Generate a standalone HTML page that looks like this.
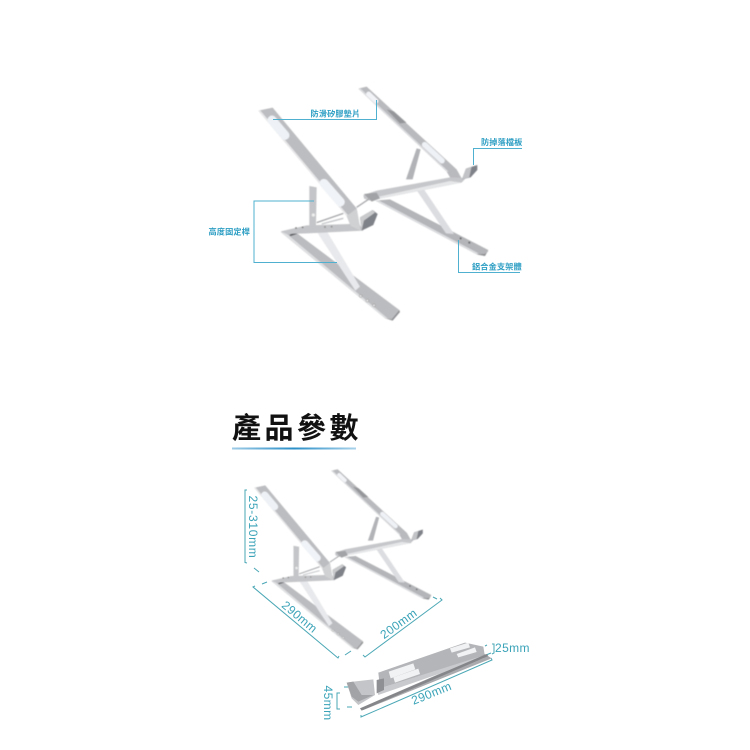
<!DOCTYPE html>
<html><head><meta charset="utf-8">
<style>
html,body{margin:0;padding:0;background:#fff;width:750px;height:750px;overflow:hidden}
svg{display:block}
text{font-family:"Liberation Sans","Noto Sans CJK TC",sans-serif}
.l{font-size:8.2px;fill:#2f9fc4;font-weight:700;letter-spacing:.1px}
.d{font-size:12px;fill:#3aa3b8;letter-spacing:.4px}
</style></head><body>
<svg width="750" height="750" viewBox="0 0 750 750" xmlns="http://www.w3.org/2000/svg">
<defs>
<linearGradient id="ul" x1="0" x2="1" y1="0" y2="0"><stop offset="0" stop-color="#9ecbe6"/><stop offset=".5" stop-color="#2a8fc8"/><stop offset="1" stop-color="#a9d2ea"/></linearGradient>
<g id="stand" transform="translate(190,70) scale(.3333)">
  <!-- rear foot -->
  <polygon points="556,392 600,388 895,540 885,558 860,553" fill="#b4b5b8"/>
  <polygon points="556,392 860,553 866,550 568,392" fill="#dcdde0"/>
  <polygon points="860,553 885,558 895,540 893,546 884,552" fill="#8e8f92"/>
  <circle cx="812" cy="505" r="3" fill="#66676a"/><circle cx="838" cy="518" r="3" fill="#66676a"/>
  <!-- rear struts -->
  <polygon points="680,235 692,238 668,328 648,328" fill="#b2b3b7"/>
  <polygon points="676,355 698,352 792,492 768,490" fill="#dcdde1"/>
  <!-- rear arm -->
  <polygon points="505,56 530,50 800,298 815,325 782,325 770,305" fill="#b9babd"/>
  <polygon points="505,56 770,305 776,305 512,56" fill="#dcdde0"/>
  <line x1="536" y1="72" x2="558" y2="93" stroke="#f1f3f6" stroke-width="15" stroke-linecap="round"/>
  <line x1="704" y1="224" x2="756" y2="272" stroke="#eef1f5" stroke-width="17" stroke-linecap="round"/>
  <polygon points="590,118 612,124 650,158 630,160" fill="#77787c" opacity=".55"/>
  <!-- rear bar -->
  <polygon points="520,375 560,362 780,322 828,324 815,338 540,392 522,386" fill="#c6c7ca"/>
  <polygon points="540,386 780,333 815,338 540,392" fill="#e6e7e9"/>
  <polygon points="522,372 560,368 570,385 545,395" fill="#a2a3a6"/>
  <polygon points="828,296 862,285 862,300 842,322 816,328" fill="#7f8288"/>
  <polygon points="828,296 845,290 838,322 816,328" fill="#c2c3c6"/>
  <line x1="500" y1="412" x2="540" y2="385" stroke="#a9aaad" stroke-width="4"/>
  <!-- front upright -->
  <polygon points="358,348 380,352 378,470 358,470" fill="#c4c5c8"/>
  <circle cx="370" cy="435" r="5" fill="#eee"/>
  <line x1="380" y1="458" x2="460" y2="430" stroke="#a6a7aa" stroke-width="4"/>
  <line x1="395" y1="462" x2="460" y2="445" stroke="#c5c6c9" stroke-width="4"/>
  <!-- foot -->
  <polygon points="272,486 308,480 628,720 605,748 585,745" fill="#bbbcbf"/>
  <polygon points="272,486 585,745 594,746 284,486" fill="#dfe0e2"/>
  <polygon points="585,745 605,748 628,720 630,726 608,752" fill="#8f9093"/>
  <circle cx="512" cy="678" r="4" fill="#eee" stroke="#66676a"/><circle cx="532" cy="692" r="4" fill="#eee" stroke="#66676a"/><circle cx="552" cy="706" r="4" fill="#eee" stroke="#66676a"/>
  <line x1="300" y1="496" x2="320" y2="490" stroke="#55565a" stroke-width="4"/>
  <!-- strut -->
  <polygon points="382,488 412,486 510,650 496,662" fill="#e8e9ec"/>
  <!-- base bar -->
  <polygon points="272,484 350,466 480,462 508,462 520,482 352,490 290,492" fill="#c4c5c8"/>
  <circle cx="318" cy="474" r="2.500" fill="#777"/><circle cx="338" cy="472" r="2.500" fill="#777"/><circle cx="405" cy="471" r="2.500" fill="#888"/><circle cx="425" cy="470" r="2.500" fill="#888"/>
  <!-- front arm -->
  <polygon points="205,122 248,113 500,415 512,482 482,468 470,438" fill="#bcbdc0"/>
  <polygon points="205,122 211,121 476,438 470,438" fill="#e8e8ea"/>
  <polygon points="470,438 500,415 512,482 482,468" fill="#d0d1d3"/>
  <line x1="246" y1="150" x2="285" y2="196" stroke="#eef2f6" stroke-width="27" stroke-linecap="round"/>
  <line x1="402" y1="340" x2="451" y2="396" stroke="#f0f3f7" stroke-width="27" stroke-linecap="round"/>
  <!-- front lip -->
  <polygon points="510,442 548,420 563,432 550,465 515,482" fill="#7f8288"/>
  <polygon points="510,442 548,420 555,428 522,452 515,482" fill="#c9cacc"/>
</g>
</defs>

<g style="filter:blur(.4px)"><use href="#stand"/></g>

<!-- callouts -->
<g fill="none" stroke="#4fb1cf" stroke-width="1">
  <polyline points="273,119.500 376.500,119.500 376.500,100"/>
  <polyline points="314,201 254,201 254,262.500 337,262.500"/>
  <polyline points="522,148.500 473.500,148.500 473.500,165"/>
  <polyline points="458.500,240 458.500,272.500 520,272.500"/>
</g>
<text class="l" x="310.500" y="116.500">防滑矽膠墊片</text>
<text class="l" x="208.500" y="234.500">高度固定桿</text>
<text class="l" x="481" y="145">防掉落檔板</text>
<text class="l" x="472" y="269.500">鋁合金支架體</text>

<!-- title -->
<text x="232" y="438" font-size="29" font-weight="700" fill="#111" letter-spacing="3.500">產品參數</text>
<rect x="232" y="447.500" width="124" height="2" fill="url(#ul)"/>

<!-- lower stand -->
<g style="filter:blur(.4px)"><use href="#stand" transform="translate(55.300,402.500) scale(.77)"/></g>

<!-- dimensions -->
<g fill="none" stroke="#4aa7b5" stroke-width="1">
  <polyline points="247,490 245,490 245,562.500 247,563"/>
  <line x1="254" y1="568" x2="259" y2="572"/>
  <line x1="262" y1="584" x2="267" y2="582"/>
  <polyline points="255,586 253,587 338,658 339,656"/>
  <line x1="345" y1="655" x2="351" y2="651"/>
  <line x1="433" y1="597" x2="437" y2="599"/>
  <polyline points="363,655 365,657 442,600 440,598"/>
  <line x1="485" y1="646" x2="487" y2="645"/>
  <polyline points="492,644 494,644 494,653 492,654"/>
  <line x1="486" y1="655" x2="491" y2="653"/>
  <polyline points="361,715 361,717 492,660 491,658"/>
  <polyline points="340,693 337,693 337,709 340,709"/>
  <line x1="344" y1="687" x2="350" y2="687"/>
  <line x1="347" y1="707" x2="352" y2="707"/>
</g>
<text class="d" transform="translate(249,527) rotate(90)" text-anchor="middle" style="letter-spacing:.7px">25-310mm</text>
<text class="d" transform="translate(297,620) rotate(40)" text-anchor="middle">290mm</text>
<text class="d" transform="translate(401,627) rotate(-36)" text-anchor="middle">200mm</text>
<text class="d" x="495" y="652">25mm</text>
<text class="d" transform="translate(433,697) rotate(-22)" text-anchor="middle">290mm</text>
<text class="d" transform="translate(324,703) rotate(90)" text-anchor="middle">45mm</text>

<!-- folded stand -->
<g transform="translate(310,630) scale(.3333)" style="filter:blur(.4px)">
  <polygon points="205,128 465,38 520,50 525,80 210,175" fill="#b4b5b8"/>
  <polygon points="150,235 525,72 545,85 160,240" fill="#a9aaad"/>
  <polygon points="200,178 525,75 520,85 205,195" fill="#c9cacd"/>
  <polygon points="236,125 310,100 316,118 242,145" fill="#f1f2f4"/>
  <polygon points="250,142 325,116 330,132 255,158" fill="#f1f2f4"/>
  <polygon points="420,55 475,38 480,52 425,68" fill="#f1f2f4"/>
  <polygon points="440,72 495,52 500,66 445,82" fill="#f1f2f4"/>
  <polygon points="110,158 130,155 190,148 195,195 145,225 125,205" fill="#c4c5c8"/>
  <polygon points="110,158 130,155 155,195 190,195 145,215 125,200" fill="#a2a3a6"/>
  <polygon points="150,235 530,72 535,78 155,242" fill="#858689"/>
  <polygon points="200,150 222,145 222,180 200,190" fill="#8f9094"/>
</g>
</svg>
</body></html>
